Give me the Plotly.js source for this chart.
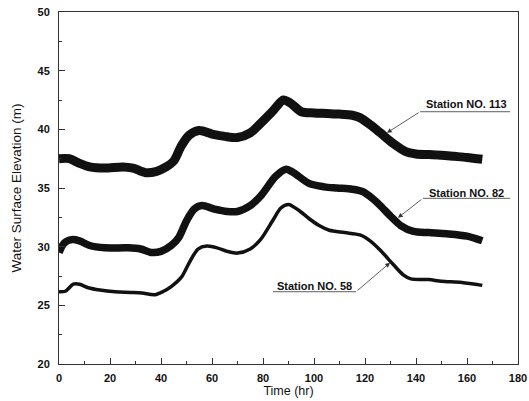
<!DOCTYPE html>
<html>
<head>
<meta charset="utf-8">
<script src="https://cdn.plot.ly/plotly-3.0.1.min.js"></script>
<style>html,body{margin:0;padding:0;background:#fff;}#chart{width:529px;height:401px;}</style>
</head>
<body>
<div id="chart"></div>
<script>
// Station NO. 113
const t113 = [0,4,8,12,18,25,29,34,38,42,45,48,51,55,60,65,70,75,79,84,88,91,95,100,105,110,115,118,122,126,131,136,140,145,150,155,160,166];
const h113 = [37.5,37.5,37.1,36.8,36.7,36.8,36.7,36.3,36.4,36.8,37.3,38.6,39.5,39.9,39.6,39.4,39.3,39.7,40.5,41.6,42.5,42.2,41.5,41.4,41.35,41.3,41.2,41.0,40.4,39.7,38.8,38.1,37.9,37.85,37.8,37.7,37.6,37.45];
// Station NO. 82
const t82 = [0,2,5,8,12,18,27,32,36.5,40,44,47,50,53,56,61,66,70,75,79,85,89,92,98,104,109,115,119,123,126,130,134,139,145,152,160,166];
const h82 = [29.5,30.3,30.6,30.5,30.1,29.9,29.9,29.8,29.5,29.6,30.1,30.8,32.2,33.2,33.5,33.2,33.0,33.0,33.5,34.3,36.0,36.6,36.3,35.4,35.1,35.0,34.9,34.7,34.1,33.5,32.6,31.8,31.3,31.2,31.1,30.9,30.5];
// Station NO. 58
const t58 = [0,2.5,5.6,8,11.5,16,22,28,32.5,37.6,41,44,48,51,54.5,58,62,66,70,75,79,84,87,90,94,98,102,106,112,118,122,126,131,135,138,145,150,158,166];
const h58 = [26.15,26.2,26.8,26.8,26.5,26.3,26.15,26.1,26.05,25.9,26.2,26.6,27.4,28.6,29.8,30.05,29.9,29.6,29.45,29.8,30.6,32.3,33.3,33.6,33.1,32.4,31.8,31.4,31.2,31.0,30.5,29.7,28.5,27.6,27.25,27.2,27.05,26.95,26.7];

const labels = ["Station NO. 113", "Station NO. 82", "Station NO. 58"];
const xTicks = [0,20,40,60,80,100,120,140,160,180];
const yTicks = [20,25,30,35,40,45,50];

const FONT = "Liberation Sans, Arial, sans-serif";
const INK = "#111";

const traces = [
  {x: t113, y: h113, mode: "lines", line: {color: INK, width: 9, shape: "spline", smoothing: 0.8}, name: labels[0]},
  {x: t82,  y: h82,  mode: "lines", line: {color: INK, width: 7.5, shape: "spline", smoothing: 0.8}, name: labels[1]},
  {x: t58,  y: h58,  mode: "lines", line: {color: INK, width: 3.5, shape: "spline", smoothing: 0.8}, name: labels[2]}
];

function txt(x, y, s) {
  return {x: x, y: y, xref: "x", yref: "y", text: "<b>" + s + "</b>", showarrow: false,
          font: {family: FONT, size: 11, color: INK}};
}
function arr(x, y, ax, ay) {
  return {x: x, y: y, xref: "x", yref: "y", ax: ax, ay: ay, axref: "x", ayref: "y", text: "",
          showarrow: true, arrowhead: 2, arrowsize: 1.2, arrowwidth: 0.8, arrowcolor: "#333"};
}
function ul(x0, x1, y) {
  return {type: "line", xref: "x", yref: "y", x0: x0, x1: x1, y0: y, y1: y, line: {color: "#333", width: 0.8}};
}

const layout = {
  width: 529, height: 401,
  margin: {l: 59, r: 11, t: 12, b: 37},
  paper_bgcolor: "#fff", plot_bgcolor: "#fff",
  showlegend: false,
  font: {family: FONT, color: INK},
  xaxis: {
    range: [0, 180], tickvals: xTicks, ticktext: xTicks.map(String),
    ticks: "inside", ticklen: 6, tickwidth: 1, tickcolor: "#333",
    minor: {dtick: 10, tick0: 0, ticks: "inside", ticklen: 3, tickcolor: "#333", showgrid: false},
    showline: true, linecolor: "#333", linewidth: 1, mirror: true,
    showgrid: false, zeroline: false,
    tickfont: {family: FONT, size: 11, color: INK, weight: "bold"},
    ticklabelstandoff: 4,
    title: {text: "Time (hr)", font: {family: FONT, size: 12.5, color: INK}, standoff: 2}
  },
  yaxis: {
    range: [20, 50], tickvals: yTicks, ticktext: yTicks.map(String),
    ticks: "inside", ticklen: 6, tickwidth: 1, tickcolor: "#333",
    minor: {dtick: 2.5, tick0: 20, ticks: "inside", ticklen: 3, tickcolor: "#333", showgrid: false},
    showline: true, linecolor: "#333", linewidth: 1, mirror: true,
    showgrid: false, zeroline: false,
    tickfont: {family: FONT, size: 11, color: INK, weight: "bold"},
    ticklabelstandoff: 6,
    title: {text: "Water Surface Elevation (m)", font: {family: FONT, size: 13.5, color: INK}, standoff: 12}
  },
  annotations: [
    txt(159.8, 42.16, labels[0]), arr(128.6, 39.7, 141.6, 41.5),
    txt(159.8, 34.57, labels[1]), arr(132.9, 32.46, 142.7, 34.12),
    txt(100, 26.64, labels[2]),   arr(129.8, 28.63, 116.5, 26.16)
  ],
  shapes: [
    ul(141.6, 176.9, 41.5),
    ul(142.7, 176.9, 34.12),
    ul(83.9, 116.5, 26.16)
  ]
};

Plotly.newPlot("chart", traces, layout, {displayModeBar: false, staticPlot: true});
</script>
</body>
</html>
